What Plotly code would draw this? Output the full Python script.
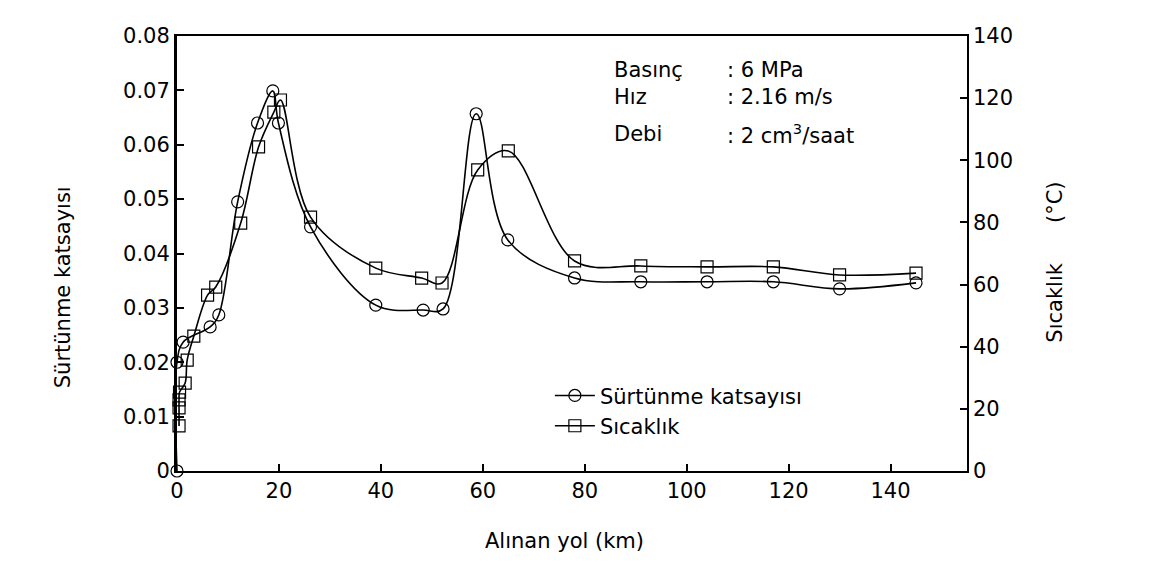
import plotly.graph_objects as go

# Sürtünme katsayısı (friction coefficient)
fr_x = [0, 0, 1.2, 6.5, 8.2, 11.9, 15.8, 18.8, 19.9, 26.2, 39, 48.3, 52.2, 58.7, 64.9, 78, 91, 104, 117, 130, 145]
fr_y = [0, 0.020, 0.0237, 0.0265, 0.0287, 0.0495, 0.064, 0.0699, 0.064, 0.0449, 0.0305, 0.0296, 0.0298,
        0.0657, 0.0425, 0.0355, 0.0348, 0.0348, 0.0348, 0.0335, 0.0346]

# Sıcaklık (temperature, °C)
t_x = [0.4, 0.4, 0.4, 0.5, 1.6, 2.0, 3.3, 6.0, 7.6, 12.5, 16, 19, 20.3, 26.2, 39, 48, 52, 59, 65, 78, 91,
       104, 117, 130, 145]
t_y = [14.5, 20.3, 22.9, 25.4, 28.3, 35.7, 43.4, 56.6, 59.2, 79.8, 104.3, 115.5, 119.4, 81.7, 65.3, 62.1,
       60.5, 96.9, 103, 67.6, 66, 65.7, 65.7, 63.1, 63.7]

x_ticks = [0, 20, 40, 60, 80, 100, 120, 140]
y1_ticks = [0, 0.01, 0.02, 0.03, 0.04, 0.05, 0.06, 0.07, 0.08]
y1_labels = ["0", "0.01", "0.02", "0.03", "0.04", "0.05", "0.06", "0.07", "0.08"]
y2_ticks = [0, 20, 40, 60, 80, 100, 120, 140]

info_labels = ["Basınç", "Hız", "Debi"]
info_values = [": 6 MPa", ": 2.16 m/s", ": 2 cm<sup>3</sup>/saat"]

FONT = "DejaVu Sans, Verdana, sans-serif"
FS = 21

fig = go.Figure()
fig.add_trace(go.Scatter(
    x=fr_x, y=fr_y, name="Sürtünme katsayısı", mode="lines+markers",
    line=dict(color="black", width=1.6, shape="spline", smoothing=1.0),
    marker=dict(symbol="circle-open", size=12, color="black", line=dict(width=1.2)),
    cliponaxis=False, yaxis="y"))
fig.add_trace(go.Scatter(
    x=t_x, y=t_y, name="Sıcaklık", mode="lines+markers",
    line=dict(color="black", width=1.6, shape="spline", smoothing=1.0),
    marker=dict(symbol="square-open", size=12, color="black", line=dict(width=1.2)),
    cliponaxis=False, yaxis="y2"))

axis_font = dict(family=FONT, size=FS, color="black")

fig.update_layout(
    width=1163, height=562,
    margin=dict(l=177, r=196, t=36, b=91),
    paper_bgcolor="white", plot_bgcolor="white",
    font=axis_font,
    showlegend=True,
    legend=dict(x=0.472, y=0.22, xanchor="left", yanchor="top",
                bgcolor="rgba(0,0,0,0)", font=dict(family=FONT, size=FS, color="black"),
                tracegroupgap=0, itemwidth=40),
    xaxis=dict(range=[0, 155], tickvals=x_ticks, ticks="inside", ticklen=7, tickwidth=1.5,
               tickcolor="black", showline=True, linecolor="black", linewidth=1.5, mirror=True,
               showgrid=False, zeroline=False, tickfont=axis_font),
    yaxis=dict(range=[0, 0.08], tickvals=y1_ticks, ticktext=y1_labels, ticks="inside", ticklen=7,
               tickwidth=1.5, tickcolor="black", showline=True, linecolor="black", linewidth=3,
               showgrid=False, zeroline=False, tickfont=axis_font),
    yaxis2=dict(range=[0, 140], tickvals=y2_ticks, ticks="inside", ticklen=7, tickwidth=1.5,
                tickcolor="black", showline=True, linecolor="black", linewidth=1.5,
                overlaying="y", side="right", showgrid=False, zeroline=False, tickfont=axis_font),
)

annos = [
    dict(text="Sürtünme katsayısı", x=-0.144, y=0.423, textangle=-90),
    dict(text="Sıcaklık\u00a0\u00a0\u00a0\u00a0\u00a0\u00a0(°C)", x=1.112, y=0.48, textangle=-90),
    dict(text="Alınan yol (km)", x=0.49, y=-0.161),
]
for a in annos:
    fig.add_annotation(xref="paper", yref="paper", showarrow=False,
                       font=dict(family=FONT, size=FS, color="black"), xanchor="center",
                       yanchor="middle", **a)

info_y = [70, 97, 134]
for lab, val, py in zip(info_labels, info_values, info_y):
    yp = (471 - py) / 435
    fig.add_annotation(xref="paper", yref="paper", x=(612 - 177) / 790, y=yp, text=lab,
                       showarrow=False, xanchor="left", yanchor="middle",
                       font=dict(family=FONT, size=FS, color="black"))
    fig.add_annotation(xref="paper", yref="paper", x=(725 - 177) / 790, y=yp, text=val,
                       showarrow=False, xanchor="left", yanchor="middle",
                       font=dict(family=FONT, size=FS, color="black"))

fig.write_html("out.html")
